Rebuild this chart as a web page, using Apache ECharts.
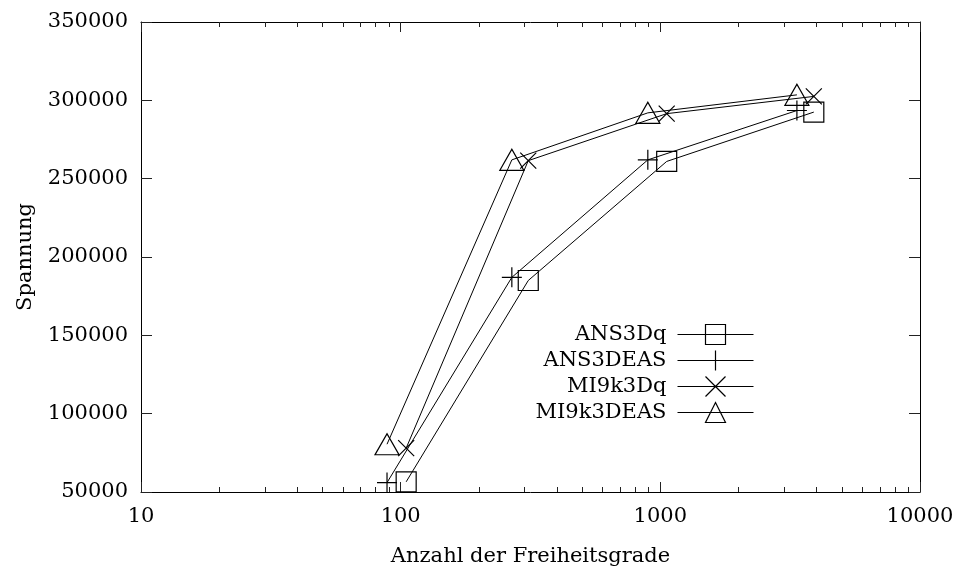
<!DOCTYPE html>
<html>
<head>
<meta charset="utf-8">
<script src="https://cdn.jsdelivr.net/npm/echarts@6/dist/echarts.min.js"></script>
<style>
  html, body { margin: 0; padding: 0; background: #fff; }
  #chart { width: 957px; height: 572px; }
</style>
</head>
<body>
<div id="chart"></div>
<script>
// Degrees of freedom per mesh (x) and resulting stress (y)
const dofDq = [105, 310, 1058, 3900];
const dofDEAS = [88.6, 268, 895, 3357];

const ans3Dq = [56500, 185000, 261000, 292500];
const ans3DEAS = [56000, 187000, 262000, 293500];
const mi9k3Dq = [78000, 261500, 291500, 302500];
const mi9k3DEAS = [80500, 262000, 292000, 303500];

const seriesNames = ['ANS3Dq', 'ANS3DEAS', 'MI9k3Dq', 'MI9k3DEAS'];

const yTicks = [50000, 100000, 150000, 200000, 250000, 300000, 350000];
const xMajor = [10, 100, 1000, 10000];
const xMinor = [20, 30, 40, 50, 60, 70, 80, 90,
                200, 300, 400, 500, 600, 700, 800, 900,
                2000, 3000, 4000, 5000, 6000, 7000, 8000, 9000];

const FONT = 'DejaVu Serif';

const pair = (xs, ys) => xs.map((x, i) => [x, ys[i]]);

const SYM = {
  square: 'path://M0,0L10,0L10,10L0,10Z',
  plus: 'path://M5,0L5,10M0,5L10,5',
  cross: 'path://M0,0L10,10M10,0L0,10',
  triangle: 'path://M5,0L10,8.66L0,8.66Z'
};

function lineSeries(name, data, symbol, size) {
  return {
    name: name,
    type: 'line',
    xAxisIndex: 0,
    yAxisIndex: 0,
    data: data,
    symbol: symbol,
    symbolSize: size,
    showAllSymbol: true,
    color: '#000',
    lineStyle: { color: '#000', width: 1 },
    itemStyle: { color: 'none', borderColor: '#000', borderWidth: 1.2 },
    emphasis: { disabled: true },
    animation: false,
    z: 3
  };
}

const xBase = {
  type: 'log', logBase: 10, min: 10, max: 10000, gridIndex: 0,
  splitLine: { show: false }, axisLine: { onZero: false }
};

const option = {
  backgroundColor: '#fff',
  animation: false,
  grid: { left: 141, right: 37, top: 22, bottom: 79, containLabel: false },
  xAxis: [
    Object.assign({}, xBase, {
      position: 'bottom',
      name: 'Anzahl der Freiheitsgrade',
      nameLocation: 'middle',
      nameGap: 54,
      nameTextStyle: { fontFamily: FONT, fontSize: 21, color: '#000' },
      axisLine: { show: true, onZero: false, lineStyle: { color: '#000', width: 1 } },
      axisTick: { show: true, inside: true, length: 10, customValues: xMajor, lineStyle: { color: '#222', width: 1 } },
      axisLabel: { show: true, margin: 14, customValues: xMajor, fontFamily: FONT, fontSize: 21, color: '#000',
                   formatter: v => String(Math.round(v)) }
    }),
    Object.assign({}, xBase, {
      position: 'bottom',
      axisLine: { show: false, onZero: false },
      axisTick: { show: true, inside: true, length: 5, customValues: xMinor, lineStyle: { color: '#222', width: 1 } },
      axisLabel: { show: false }
    }),
    Object.assign({}, xBase, {
      position: 'top',
      axisLine: { show: true, onZero: false, lineStyle: { color: '#000', width: 1 } },
      axisTick: { show: true, inside: true, length: 10, customValues: xMajor, lineStyle: { color: '#222', width: 1 } },
      axisLabel: { show: false }
    }),
    Object.assign({}, xBase, {
      position: 'top',
      axisLine: { show: false, onZero: false },
      axisTick: { show: true, inside: true, length: 5, customValues: xMinor, lineStyle: { color: '#222', width: 1 } },
      axisLabel: { show: false }
    })
  ],
  yAxis: [
    {
      type: 'value', position: 'left', min: 50000, max: 350000, interval: 50000,
      name: 'Spannung', nameLocation: 'middle', nameGap: 105, nameRotate: 90,
      nameTextStyle: { fontFamily: FONT, fontSize: 21, color: '#000' },
      splitLine: { show: false },
      axisLine: { show: true, onZero: false, lineStyle: { color: '#000', width: 1 } },
      axisTick: { show: true, inside: true, length: 11, lineStyle: { color: '#222', width: 1 } },
      axisLabel: { margin: 13, fontFamily: FONT, fontSize: 21, color: '#000', customValues: yTicks,
                   formatter: v => String(v) }
    },
    {
      type: 'value', position: 'right', min: 50000, max: 350000, interval: 50000,
      splitLine: { show: false },
      axisLine: { show: true, onZero: false, lineStyle: { color: '#000', width: 1 } },
      axisTick: { show: true, inside: true, length: 11, lineStyle: { color: '#222', width: 1 } },
      axisLabel: { show: false }
    }
  ],
  legend: {
    orient: 'vertical',
    align: 'right',
    right: 198,
    top: 317,
    itemWidth: 76,
    itemHeight: 25,
    itemGap: 1,
    selectedMode: false,
    data: seriesNames,
    lineStyle: { width: 1, color: '#000' },
    itemStyle: { borderWidth: 1.2, borderColor: '#000', color: 'none' },
    textStyle: { fontFamily: FONT, fontSize: 21, color: '#000', padding: [0, 6, 0, 0] }
  },
  series: [
    lineSeries(seriesNames[0], pair(dofDq, ans3Dq), SYM.square, 20),
    lineSeries(seriesNames[1], pair(dofDEAS, ans3DEAS), SYM.plus, 20),
    lineSeries(seriesNames[2], pair(dofDq, mi9k3Dq), SYM.cross, 16),
    lineSeries(seriesNames[3], pair(dofDEAS, mi9k3DEAS), SYM.triangle, [24, 21])
  ]
};

const chart = echarts.init(document.getElementById('chart'), null, { renderer: 'canvas' });
chart.setOption(option);
</script>
</body>
</html>
